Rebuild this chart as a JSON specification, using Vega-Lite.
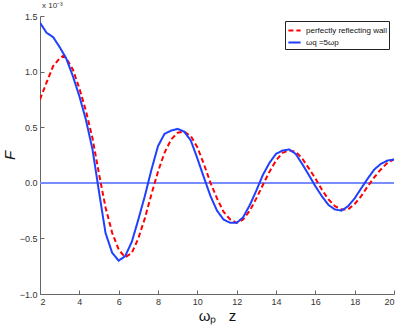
{
  "$schema": "https://vega.github.io/schema/vega-lite/v6.json",
  "width": 354,
  "height": 278,
  "autosize": {"type": "none"},
  "padding": {"left": 40, "top": 16, "right": 7, "bottom": 33},
  "background": "white",
  "title": {"text": "x 10⁻³", "anchor": "start", "frame": "group", "fontSize": 8, "font": "Liberation Sans", "fontWeight": "normal", "color": "#333", "offset": 2, "dx": 2},
  "config": {
    "view": {"stroke": null},
    "axis": {"labelFont": "Liberation Sans", "labelFontSize": 9, "labelColor": "#333", "domainColor": "#666", "tickColor": "#666", "grid": false, "tickSize": -4, "labelPadding": 7, "titleFont": "Liberation Sans", "titleFontWeight": "normal", "titleColor": "#111"}
  },
  "datasets": {
    "curves": [
      {"series": "perfectly reflecting wall", "x": 2.0, "F": 0.75},
      {"series": "perfectly reflecting wall", "x": 2.33, "F": 0.90},
      {"series": "perfectly reflecting wall", "x": 2.67, "F": 1.05},
      {"series": "perfectly reflecting wall", "x": 3.0, "F": 1.12},
      {"series": "perfectly reflecting wall", "x": 3.17, "F": 1.14},
      {"series": "perfectly reflecting wall", "x": 3.33, "F": 1.12},
      {"series": "perfectly reflecting wall", "x": 3.67, "F": 1.02},
      {"series": "perfectly reflecting wall", "x": 4.0, "F": 0.85},
      {"series": "perfectly reflecting wall", "x": 4.33, "F": 0.65},
      {"series": "perfectly reflecting wall", "x": 4.67, "F": 0.40},
      {"series": "perfectly reflecting wall", "x": 5.0, "F": 0.08},
      {"series": "perfectly reflecting wall", "x": 5.33, "F": -0.22},
      {"series": "perfectly reflecting wall", "x": 5.67, "F": -0.45},
      {"series": "perfectly reflecting wall", "x": 6.0, "F": -0.60},
      {"series": "perfectly reflecting wall", "x": 6.33, "F": -0.67},
      {"series": "perfectly reflecting wall", "x": 6.67, "F": -0.63},
      {"series": "perfectly reflecting wall", "x": 7.0, "F": -0.50},
      {"series": "perfectly reflecting wall", "x": 7.33, "F": -0.32},
      {"series": "perfectly reflecting wall", "x": 7.67, "F": -0.10},
      {"series": "perfectly reflecting wall", "x": 8.0, "F": 0.10},
      {"series": "perfectly reflecting wall", "x": 8.33, "F": 0.27},
      {"series": "perfectly reflecting wall", "x": 8.67, "F": 0.39},
      {"series": "perfectly reflecting wall", "x": 9.0, "F": 0.45},
      {"series": "perfectly reflecting wall", "x": 9.33, "F": 0.46},
      {"series": "perfectly reflecting wall", "x": 9.67, "F": 0.42},
      {"series": "perfectly reflecting wall", "x": 10.0, "F": 0.32},
      {"series": "perfectly reflecting wall", "x": 10.33, "F": 0.17},
      {"series": "perfectly reflecting wall", "x": 10.67, "F": 0.0},
      {"series": "perfectly reflecting wall", "x": 11.0, "F": -0.14},
      {"series": "perfectly reflecting wall", "x": 11.33, "F": -0.26},
      {"series": "perfectly reflecting wall", "x": 11.67, "F": -0.33},
      {"series": "perfectly reflecting wall", "x": 12.0, "F": -0.36},
      {"series": "perfectly reflecting wall", "x": 12.33, "F": -0.33},
      {"series": "perfectly reflecting wall", "x": 12.67, "F": -0.25},
      {"series": "perfectly reflecting wall", "x": 13.0, "F": -0.14},
      {"series": "perfectly reflecting wall", "x": 13.33, "F": -0.02},
      {"series": "perfectly reflecting wall", "x": 13.67, "F": 0.10},
      {"series": "perfectly reflecting wall", "x": 14.0, "F": 0.20},
      {"series": "perfectly reflecting wall", "x": 14.33, "F": 0.27},
      {"series": "perfectly reflecting wall", "x": 14.67, "F": 0.29},
      {"series": "perfectly reflecting wall", "x": 15.0, "F": 0.28},
      {"series": "perfectly reflecting wall", "x": 15.33, "F": 0.22},
      {"series": "perfectly reflecting wall", "x": 15.67, "F": 0.13},
      {"series": "perfectly reflecting wall", "x": 16.0, "F": 0.04},
      {"series": "perfectly reflecting wall", "x": 16.33, "F": -0.06},
      {"series": "perfectly reflecting wall", "x": 16.67, "F": -0.15},
      {"series": "perfectly reflecting wall", "x": 17.0, "F": -0.21},
      {"series": "perfectly reflecting wall", "x": 17.33, "F": -0.24},
      {"series": "perfectly reflecting wall", "x": 17.67, "F": -0.24},
      {"series": "perfectly reflecting wall", "x": 18.0, "F": -0.19},
      {"series": "perfectly reflecting wall", "x": 18.33, "F": -0.12},
      {"series": "perfectly reflecting wall", "x": 18.67, "F": -0.03},
      {"series": "perfectly reflecting wall", "x": 19.0, "F": 0.05},
      {"series": "perfectly reflecting wall", "x": 19.33, "F": 0.12},
      {"series": "perfectly reflecting wall", "x": 19.67, "F": 0.18},
      {"series": "perfectly reflecting wall", "x": 20.0, "F": 0.21},
      {"series": "ωq =5ωp", "x": 2.0, "F": 1.44},
      {"series": "ωq =5ωp", "x": 2.33, "F": 1.35},
      {"series": "ωq =5ωp", "x": 2.67, "F": 1.31},
      {"series": "ωq =5ωp", "x": 3.0, "F": 1.22},
      {"series": "ωq =5ωp", "x": 3.33, "F": 1.12},
      {"series": "ωq =5ωp", "x": 3.67, "F": 0.96},
      {"series": "ωq =5ωp", "x": 4.0, "F": 0.78},
      {"series": "ωq =5ωp", "x": 4.33, "F": 0.57},
      {"series": "ωq =5ωp", "x": 4.67, "F": 0.30},
      {"series": "ωq =5ωp", "x": 5.0, "F": -0.08},
      {"series": "ωq =5ωp", "x": 5.33, "F": -0.45},
      {"series": "ωq =5ωp", "x": 5.67, "F": -0.63},
      {"series": "ωq =5ωp", "x": 6.0, "F": -0.70},
      {"series": "ωq =5ωp", "x": 6.33, "F": -0.66},
      {"series": "ωq =5ωp", "x": 6.67, "F": -0.53},
      {"series": "ωq =5ωp", "x": 7.0, "F": -0.33},
      {"series": "ωq =5ωp", "x": 7.33, "F": -0.12},
      {"series": "ωq =5ωp", "x": 7.67, "F": 0.12},
      {"series": "ωq =5ωp", "x": 8.0, "F": 0.33},
      {"series": "ωq =5ωp", "x": 8.33, "F": 0.44},
      {"series": "ωq =5ωp", "x": 8.67, "F": 0.47},
      {"series": "ωq =5ωp", "x": 9.0, "F": 0.485},
      {"series": "ωq =5ωp", "x": 9.33, "F": 0.46},
      {"series": "ωq =5ωp", "x": 9.67, "F": 0.38},
      {"series": "ωq =5ωp", "x": 10.0, "F": 0.22},
      {"series": "ωq =5ωp", "x": 10.33, "F": 0.05},
      {"series": "ωq =5ωp", "x": 10.67, "F": -0.12},
      {"series": "ωq =5ωp", "x": 11.0, "F": -0.25},
      {"series": "ωq =5ωp", "x": 11.33, "F": -0.33},
      {"series": "ωq =5ωp", "x": 11.67, "F": -0.36},
      {"series": "ωq =5ωp", "x": 12.0, "F": -0.36},
      {"series": "ωq =5ωp", "x": 12.33, "F": -0.31},
      {"series": "ωq =5ωp", "x": 12.67, "F": -0.20},
      {"series": "ωq =5ωp", "x": 13.0, "F": -0.07},
      {"series": "ωq =5ωp", "x": 13.33, "F": 0.07},
      {"series": "ωq =5ωp", "x": 13.67, "F": 0.18},
      {"series": "ωq =5ωp", "x": 14.0, "F": 0.26},
      {"series": "ωq =5ωp", "x": 14.33, "F": 0.29},
      {"series": "ωq =5ωp", "x": 14.67, "F": 0.30},
      {"series": "ωq =5ωp", "x": 15.0, "F": 0.26},
      {"series": "ωq =5ωp", "x": 15.33, "F": 0.17},
      {"series": "ωq =5ωp", "x": 15.67, "F": 0.07},
      {"series": "ωq =5ωp", "x": 16.0, "F": -0.03},
      {"series": "ωq =5ωp", "x": 16.33, "F": -0.12},
      {"series": "ωq =5ωp", "x": 16.67, "F": -0.20},
      {"series": "ωq =5ωp", "x": 17.0, "F": -0.24},
      {"series": "ωq =5ωp", "x": 17.33, "F": -0.25},
      {"series": "ωq =5ωp", "x": 17.67, "F": -0.21},
      {"series": "ωq =5ωp", "x": 18.0, "F": -0.14},
      {"series": "ωq =5ωp", "x": 18.33, "F": -0.05},
      {"series": "ωq =5ωp", "x": 18.67, "F": 0.04},
      {"series": "ωq =5ωp", "x": 19.0, "F": 0.12},
      {"series": "ωq =5ωp", "x": 19.33, "F": 0.17},
      {"series": "ωq =5ωp", "x": 19.67, "F": 0.20},
      {"series": "ωq =5ωp", "x": 20.0, "F": 0.21}
    ]
  },
  "data": {"name": "curves"},
  "layer": [
    {
      "mark": {"type": "rule", "color": "#7890ff", "strokeWidth": 0.5},
      "encoding": {"y": {"datum": 0, "type": "quantitative"}}
    },
    {
      "mark": {"type": "line", "strokeWidth": 2, "clip": true},
      "encoding": {
        "x": {"field": "x", "type": "quantitative", "scale": {"domain": [2, 20], "nice": false}, "axis": {"values": [2,4,6,8,10,12,14,16,18,20], "title": "ωₚ\u00a0\u00a0\u00a0z", "titleFontSize": 15, "titlePadding": 2}},
        "y": {"field": "F", "type": "quantitative", "scale": {"domain": [-1, 1.5], "nice": false}, "axis": {"values": [-1,-0.5,0,0.5,1,1.5], "title": "F", "titleFontSize": 15, "titleFontStyle": "italic", "titlePadding": 2}},
        "color": {"field": "series", "type": "nominal", "scale": {"domain": ["perfectly reflecting wall", "ωq =5ωp"], "range": ["#ff0000", "#2040ff"]}, "legend": {"title": null, "orient": "top-right", "offset": 5, "fillColor": "white", "strokeColor": "#222", "padding": 2, "labelFont": "Liberation Sans", "labelFontSize": 8, "labelColor": "#111", "symbolType": "stroke", "symbolSize": 150, "symbolStrokeWidth": 2, "rowPadding": -2, "labelOffset": 4}},
        "strokeDash": {"field": "series", "type": "nominal", "scale": {"domain": ["perfectly reflecting wall", "ωq =5ωp"], "range": [[5, 3], [1, 0]]}, "legend": null}
      }
    }
  ]
}
